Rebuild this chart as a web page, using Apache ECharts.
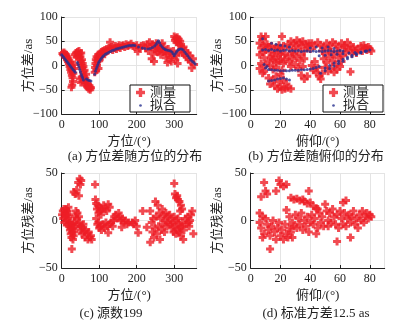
<!DOCTYPE html>
<html>
<head>
<meta charset="utf-8">
<script src="https://cdn.jsdelivr.net/npm/echarts@6/dist/echarts.min.js"></script>
<style>
  html, body { margin: 0; padding: 0; background: #fff; }
  #chart { width: 393px; height: 327px; }
</style>
</head>
<body>
<div id="chart"></div>
<script>
// Azimuth difference vs azimuth: measured [azimuth°, diff as]
const azDiffMeasured = [
  [2,25],[4,22],[6,27],[8,20],[9,24],[11,17],[12,22],[14,12],[15,18],[17,8],[18,14],[19,4],[20,10],
  [21,-2],[22,6],[23,-8],[24,0],[25,-14],[26,-5],[27,-20],[28,-10],[29,-25],[30,-33],[28,-40],[26,-45],
  [31,-16],[33,-6],[34,2],[35,22],[38,26],[40,18],[42,28],[44,22],[46,30],[47,14],[48,24],[50,18],
  [51,8],[52,26],[53,0],[54,12],[55,-6],[56,4],[57,-14],[58,-2],[59,-22],[60,-30],[61,-10],[62,-36],
  [63,-26],[64,-40],[65,-18],[66,-32],[68,-44],[70,-38],[72,-48],[74,-42],[76,-50],[78,-46],[75,-45],
  [49,-28],[51,-35],[53,-24],
  [88,-14],[89,-4],[90,4],[91,12],[92,-10],[93,18],[94,0],[95,8],[96,14],[97,22],[98,-6],[99,16],
  [100,10],[102,24],[104,20],[106,28],[108,18],[110,30],[112,26],[115,32],[118,28],[120,34],[123,30],
  [126,36],[129,48],[130,34],[133,38],[136,32],[140,36],[143,40],[146,34],[150,38],[153,42],[156,36],
  [160,40],[164,42],[168,38],[172,44],[176,40],[180,42],[185,45],[190,40],[195,38],[200,42],[203,29],
  [207,36],[212,40],[218,42],[224,36],[228,44],[231,30],[234,48],[237,38],[240,14],[242,44],[244,24],
  [246,8],[248,34],[250,40],[252,46],[254,28],[256,36],[258,44],[260,30],[262,40],[264,22],[266,34],
  [268,46],[270,28],[272,38],[275,30],[278,16],[280,24],[282,6],[284,34],[287,26],[290,16],[292,8],
  [295,22],[298,30],[300,60],[302,52],[304,56],[306,48],[308,58],[310,50],[312,54],[314,44],[316,50],
  [318,40],[303,12],[306,20],[309,4],[312,28],[320,34],[322,26],[325,38],[328,22],[330,30],[333,18],
  [336,26],[338,12],[341,20],[344,8],[347,-5],[350,14],[353,2]
];
// Azimuth difference vs azimuth: fitted model
const azDiffFit = [
  [0,22],[3,19],[6,16],[9,13],[12,10],[15,7],[18,4],[21,1],[24,-2],[27,-5],[30,-8],[33,-11],[36,-14],
  [42,6],[44,2],[46,-3],[48,-8],[50,-13],[52,-18],[54,-22],[56,-26],[58,-30],
  [66,-28],[70,-30],[74,-31],[78,-32],
  [88,-18],[90,-12],[92,-7],[94,-3],[96,1],[98,5],[100,8],[103,12],[106,15],[109,18],[112,20],[116,23],
  [120,25],[125,27],[130,29],[135,31],[140,32],[145,34],[150,35],[155,36],[160,37],[165,38],[170,39],
  [175,40],[180,41],[185,41],[190,42],[195,41],[205,38],[215,36],[222,35],[230,34],[236,35],[242,37],
  [248,40],[252,44],[255,48],[258,51],[261,47],[264,42],[268,38],[272,35],[276,33],[280,32],[285,31],
  [290,30],[294,28],[297,24],[300,20],[303,24],[306,28],[309,31],[312,33],[316,34],[320,34],[324,32],
  [328,28],[332,24],[336,20],[340,16],[344,12],[348,9],[352,6],[356,3]
];
// Azimuth difference vs elevation: measured [elevation°, diff as]
const elDiffMeasured = [
  [7,60],[10,60],[8,54],[6,46],[9,42],[7,36],[10,32],[8,28],[6,22],[9,16],[7,4],[10,0],[6,-6],[9,-12],
  [8,-16],[21,60],
  [12,-26],[13,-38],[15,-30],[16,-42],[18,-48],[20,-44],[21,-50],[23,-48],[25,-46],[27,-48],[19,-34],
  [22,-30],[24,-38],[17,-22],[20,-18],
  [11,44],[12,38],[13,28],[14,20],[15,12],[16,34],[17,6],[18,26],[19,42],[20,14],[21,32],[22,4],[23,22],
  [12,10],[14,40],[16,18],[18,36],[20,24],[22,40],[13,0],[15,-8],[17,-4],[19,8],[21,-10],[23,12],
  [25,44],[26,36],[27,50],[28,28],[29,46],[30,40],[31,52],[32,34],[33,48],[34,42],[35,50],[36,30],
  [37,44],[38,38],[39,46],[40,34],
  [25,20],[26,8],[27,-2],[28,14],[29,24],[30,2],[31,18],[32,-6],[33,10],[34,22],[35,-2],[36,14],
  [34,-20],[36,-28],[38,-22],
  [41,0],[42,-10],[43,8],[44,-14],[45,-4],[46,-22],[47,-28],[48,-16],
  [41,46],[43,40],[45,48],[47,42],[49,38],[51,46],[53,40],[55,48],[57,44],[59,38],[61,46],[63,42],
  [65,48],[67,40],
  [48,30],[49,14],[50,24],[51,6],[52,34],[53,18],[54,28],[55,10],[56,22],[57,2],[58,30],[59,16],
  [60,26],[61,8],[62,20],
  [50,-4],[52,-12],[54,-6],[56,-14],[58,-8],[60,-2],[67,-13],
  [63,36],[64,28],[66,32],[68,24],[69,38],[70,30],[71,26],
  [72,34],[74,40],[75,30],[76,42],[77,36],[78,32],[79,38],[80,34],[81,30]
];
// Azimuth difference vs elevation: fitted model
const elDiffFit = [
  [8,55],
  [8,32],[10,33],[12,31],[14,33],[16,31],[18,32],[20,30],[22,31],[24,32],[26,30],[28,31],[30,30],
  [32,31],[34,29],[36,30],[38,30],[40,29],[42,30],[44,29],[46,30],[48,29],[50,30],[52,31],[54,30],
  [56,29],[58,30],[60,31],[62,30],
  [14,46],[17,44],[20,42],[23,40],[26,38],
  [40,36],[44,38],[48,36],[52,38],[56,35],
  [9,2],[11,-2],
  [10,-5],[12,-8],[14,-9],[16,-10],[18,-10],[20,-11],[22,-11],[24,-11],[26,-11],[28,-10],[30,-10],
  [32,-10],[34,-9],[36,-9],[38,-8],[40,-7],[42,-6],[44,-4],[46,-2],
  [12,-32],[14,-31],[16,-30],[18,-28],[20,-27],[22,-26],[24,-28],[26,-30],
  [47,-16],[50,-11],[53,-6],[56,-1],[59,4],[62,9],[65,14],[68,18],[71,22],[74,26],[77,29],[80,32],
  [50,-5],[53,0],[56,5],[59,9],[62,13],[65,17],[68,21],[71,24],[74,27],[77,30],
  [46,20],[50,21],[54,22],[58,23],[62,24],[66,26],[70,27],[74,28],[78,30]
];
// Azimuth residual vs azimuth [azimuth°, residual as]
const azResidual = [
  [1,6],[3,10],[4,2],[6,12],[7,-2],[9,8],[10,4],[12,12],[13,0],[14,6],[15,-4],[16,10],[17,2],[18,14],
  [19,-6],[20,6],[21,-2],[22,-10],[23,-4],[24,-14],[25,-8],[26,-18],[27,-30],[28,-12],[29,-4],[30,-20],
  [31,-8],[32,-16],[33,-2],[34,-12],[35,4],[36,-6],
  [32,30],[36,28],[40,32],[44,40],[46,26],[48,44],[50,38],[52,42],
  [38,10],[40,2],[42,8],[44,-4],[46,4],[48,-2],[50,-10],[52,-6],[54,-14],[56,-8],[58,-4],[60,-12],
  [62,-18],[64,-10],[68,-14],[70,-20],[72,-12],[75,-18],[78,-16],[80,-20],
  [89,38],[90,22],[92,18],[94,12],[96,16],[98,8],[100,14],[102,10],[105,6],[108,12],[112,16],[116,12],
  [120,10],[124,17],[128,14],
  [92,2],[95,-4],[98,-2],[100,-8],[103,-6],[106,-10],[110,-4],[114,-8],[118,-2],[122,-6],[124,-13],
  [128,-4],[132,-2],[136,-6],[138,0],
  [140,4],[144,6],[148,2],[152,8],[155,4],[158,0],[160,-7],[162,2],[166,-2],[170,0],[174,-4],[178,-2],
  [188,-2],[192,-4],[196,0],[200,-6],[204,-13],
  [216,10],[227,-7],[236,10],[236,-23],[240,-2],[242,-12],[244,2],[246,-18],[248,-8],[250,20],[252,4],
  [254,-14],[256,16],[258,-6],[260,8],[262,-20],[264,2],[266,-10],[268,12],[270,-4],[272,6],[274,-12],
  [276,0],[278,8],[280,-6],[282,4],[284,-2],
  [300,39],[302,28],[305,24],[308,26],[310,22],[314,20],[318,16],[321,12],[316,10],
  [288,6],[290,-4],[292,2],[294,-8],[296,-2],[298,-12],[300,4],[302,-6],[304,-14],[306,0],[308,-10],
  [310,2],[312,-4],[314,-12],[316,-8],[318,-16],[320,-6],[322,-2],[324,-20],[326,-10],
  [330,2],[333,-4],[336,4],[339,-2],[342,0],[345,6],[348,10],[351,-14],[340,-6]
];
// Azimuth residual vs elevation [elevation°, residual as]
const elResidual = [
  [9,40],[10,31],[11,28],[7,25],[17,31],[19,42],[20,38],[22,36],[24,38],[24,11],[39,31],
  [27,24],[29,22],[31,23],[33,21],[35,22],[36,20],[38,18],[40,19],[42,15],[44,13],[45,12],
  [6,8],[8,4],[7,-8],[9,-14],[8,-18],[6,-2],
  [10,2],[11,-4],[12,-10],[13,-16],[13,-30],[14,-6],[15,0],[16,-12],[17,-20],[18,-8],[19,-2],[20,-16],
  [21,-10],[22,-20],[23,-4],[24,-14],[25,-18],[26,-8],[27,-12],[28,-18],[29,-6],
  [26,4],[28,-2],[30,6],[31,-8],[32,2],[33,-4],[34,8],[35,-10],[36,0],[37,-6],[38,4],[39,-12],[40,-2],
  [41,6],[42,-4],[43,2],[44,-14],[45,-8],[46,8],[47,-2],[48,4],[49,-6],[50,17],[51,10],[52,0],
  [52,-6],[53,8],[54,-2],[55,12],[56,4],[57,-4],[58,-22],[58,6],[59,-8],[60,10],[61,2],[62,19],[62,-4],
  [63,8],[64,21],[64,-6],[65,2],[66,6],[67,-18],[67,-2],
  [68,4],[69,10],[70,-4],[71,2],[72,-8],[73,6],[74,0],[75,10],[76,-2],[77,4],[78,8],[79,2],[80,6],[81,4]
];

const azTicks = { min: 0, max: 360, interval: 100 };
const elTicks = { min: 0, max: 90, interval: 20 };
const diffTicks = { min: -100, max: 100, interval: 50 };
const residTicks = { min: -50, max: 50, interval: 50 };

const RED = '#ee1d25';
const BLUE = '#27308f';
const FONT = "'Liberation Serif', 'Noto Sans CJK SC', serif";
// thick plus sign used for measured points
const PLUS = 'path://M2.5,0H5.5V2.5H8V5.5H5.5V8H2.5V5.5H0V2.5H2.5Z';
// small dot centred in a 10x10 box so the legend icon stays small
const DOT_ICON = 'path://M0,0M10,10M5,3.5A1.5,1.5,0,1,1,5,6.5A1.5,1.5,0,1,1,5,3.5Z';

function xAx(grid, ticks, name) {
  return {
    type: 'value', gridIndex: grid, min: ticks.min, max: ticks.max, interval: ticks.interval,
    name: name, nameLocation: 'middle', nameGap: 21, nameMoveOverlap: false,
    nameTextStyle: { fontFamily: FONT, fontSize: 13, color: '#222' },
    axisLine: { show: true, onZero: false, lineStyle: { color: '#222', width: 1 } },
    axisTick: { show: true, inside: true, length: 3, lineStyle: { color: '#222' } },
    axisLabel: { fontFamily: FONT, fontSize: 12, color: '#222', margin: 5, showMaxLabel: false },
    splitLine: { show: true, lineStyle: { color: '#e4e4e4', width: 1 } }
  };
}
function yAx(grid, ticks, name) {
  return {
    type: 'value', gridIndex: grid, min: ticks.min, max: ticks.max, interval: ticks.interval,
    name: name, nameLocation: 'middle', nameGap: 27, nameRotate: 90, nameMoveOverlap: false,
    nameTextStyle: { fontFamily: FONT, fontSize: 13, color: '#222' },
    axisLine: { show: true, onZero: false, lineStyle: { color: '#222', width: 1 } },
    axisTick: { show: true, inside: true, length: 3, lineStyle: { color: '#222' } },
    axisLabel: { fontFamily: FONT, fontSize: 12, color: '#222', margin: 4,
      formatter: v => String(v).replace('-', '\u2212') },
    splitLine: { show: true, lineStyle: { color: '#e4e4e4', width: 1 } }
  };
}
function measured(idx, data) {
  return { name: '测量', type: 'scatter', xAxisIndex: idx, yAxisIndex: idx, data: data,
    symbol: PLUS, symbolSize: 8, itemStyle: { color: RED }, z: 2, animation: false };
}
function fitted(idx, data) {
  return { name: '拟合', type: 'scatter', xAxisIndex: idx, yAxisIndex: idx, data: data,
    symbol: 'circle', symbolSize: 3, itemStyle: { color: BLUE }, z: 3, animation: false };
}
function legendBox(left) {
  return {
    orient: 'vertical', left: left, top: 85, width: 50,
    padding: [1, 14, 0, 6], itemGap: 0, itemWidth: 9, itemHeight: 9,
    borderColor: '#111', borderWidth: 1, backgroundColor: '#fff', borderRadius: 0,
    textStyle: { fontFamily: FONT, fontSize: 13, color: '#222', padding: [0, 0, 0, 0] },
    data: [{ name: '测量', icon: PLUS }, { name: '拟合', icon: DOT_ICON }],
    selectedMode: false, z: 10
  };
}
function caption(text, cx, cy) {
  return { type: 'text', x: cx, y: cy,
    style: { text: text, font: '13px ' + FONT, fill: '#222', align: 'center', verticalAlign: 'middle' } };
}

const chart = echarts.init(document.getElementById('chart'), null, { renderer: 'canvas' });
chart.setOption({
  backgroundColor: '#fff',
  animation: false,
  grid: [
    { left: 61.7, top: 17, width: 135, height: 97 },
    { left: 250.7, top: 17, width: 134, height: 97 },
    { left: 61.7, top: 173, width: 135, height: 95 },
    { left: 250.7, top: 173, width: 134, height: 95 }
  ],
  xAxis: [
    xAx(0, azTicks, '方位/(°)'),
    xAx(1, elTicks, '俯仰/(°)'),
    xAx(2, azTicks, '方位/(°)'),
    xAx(3, elTicks, '俯仰/(°)')
  ],
  yAxis: [
    yAx(0, diffTicks, '方位差/as'),
    yAx(1, diffTicks, '方位差/as'),
    yAx(2, residTicks, '方位残差/as'),
    yAx(3, residTicks, '方位残差/as')
  ],
  legend: [legendBox(130), legendBox(323)],
  series: [
    measured(0, azDiffMeasured), fitted(0, azDiffFit),
    measured(1, elDiffMeasured), fitted(1, elDiffFit),
    measured(2, azResidual),
    measured(3, elResidual)
  ],
  graphic: [
    caption('(a) 方位差随方位的分布', 135, 157),
    caption('(b) 方位差随俯仰的分布', 316, 157),
    caption('(c) 源数199', 111, 314),
    caption('(d) 标准方差12.5 as', 316, 314)
  ]
});
</script>
</body>
</html>
